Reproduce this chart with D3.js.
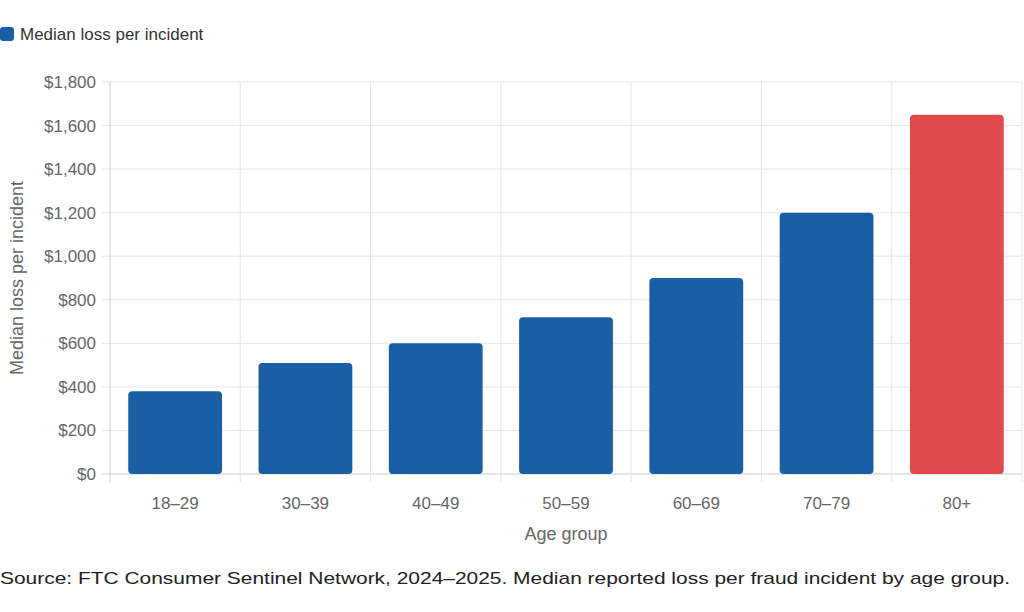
<!DOCTYPE html>
<html><head><meta charset="utf-8">
<script src="https://cdn.jsdelivr.net/npm/d3@7"></script>
<style>body{margin:0;background:#fff;font-family:"Helvetica Neue",Arial,"Liberation Sans",sans-serif;}</style>
</head><body>
<svg id="c" width="1024" height="612"></svg>
<script>
var ageGroups = ['18–29', '30–39', '40–49', '50–59', '60–69', '70–79', '80+'];
var medianLoss = [380, 510, 600, 720, 900, 1200, 1650];
var yTicks = [0, 200, 400, 600, 800, 1000, 1200, 1400, 1600, 1800];

var svg = d3.select('#c'),
    pLeft = 110, pRight = 1022, pTop = 82, pBottom = 474;

var x = d3.scaleBand().domain(ageGroups).range([pLeft, pRight]),
    y = d3.scaleLinear().domain([0, 1800]).range([pBottom, pTop]);

// grid
svg.append('g').selectAll('line').data(yTicks).join('line')
    .attr('x1', pLeft - 8).attr('x2', pRight)
    .attr('y1', function(d) { return y(d); }).attr('y2', function(d) { return y(d); })
    .attr('stroke', function(d) { return d === 0 ? '#ccc' : '#e6e6e6'; });
var bounds = ageGroups.map(function(d) { return x(d); }).concat([pRight]);
svg.append('g').selectAll('line').data(bounds).join('line')
    .attr('x1', function(d) { return d; }).attr('x2', function(d) { return d; })
    .attr('y1', pTop).attr('y2', pBottom + 8)
    .attr('stroke', function(d, i) { return i === 0 ? '#ccc' : '#e6e6e6'; });

// tick labels
svg.append('g').selectAll('text').data(yTicks).join('text')
    .attr('x', pLeft - 14).attr('y', function(d) { return y(d); }).attr('dy', '0.35em')
    .attr('text-anchor', 'end').attr('fill', '#666').style('font-size', '17px')
    .text(function(d) { return '$' + d3.format(',')(d); });
svg.append('g').selectAll('text').data(ageGroups).join('text')
    .attr('x', function(d) { return x(d) + x.bandwidth() / 2; }).attr('y', 509)
    .attr('text-anchor', 'middle').attr('fill', '#666').style('font-size', '17px')
    .text(function(d) { return d; });

// bars
svg.append('g').selectAll('rect').data(medianLoss).join('rect')
    .attr('x', function(d, i) { return x(ageGroups[i]) + x.bandwidth() * 0.14; })
    .attr('width', x.bandwidth() * 0.72)
    .attr('y', function(d) { return y(d); })
    .attr('height', function(d) { return pBottom - y(d); })
    .attr('rx', 4)
    .attr('fill', function(d, i) { return ageGroups[i] === '80+' ? '#e04a4a' : '#1a5fa6'; });

// titles
svg.append('text').attr('transform', 'translate(23,278) rotate(-90)')
    .attr('text-anchor', 'middle').attr('fill', '#666').style('font-size', '18px')
    .text('Median loss per incident');
svg.append('text').attr('x', 566).attr('y', 540).attr('text-anchor', 'middle')
    .attr('fill', '#666').style('font-size', '18px').text('Age group');

// legend
svg.append('rect').attr('x', 0).attr('y', 27).attr('width', 14).attr('height', 14)
    .attr('rx', 3).attr('fill', '#1a5fa6');
svg.append('text').attr('x', 20).attr('y', 40).attr('fill', '#333')
    .style('font-size', '17px').text('Median loss per incident');

// source
svg.append('text').attr('x', 0).attr('y', 584).attr('fill', '#222')
    .style('font-size', '17px').attr('textLength', 1010).attr('lengthAdjust', 'spacingAndGlyphs')
    .text('Source: FTC Consumer Sentinel Network, 2024–2025. Median reported loss per fraud incident by age group.');
</script>
</body></html>
